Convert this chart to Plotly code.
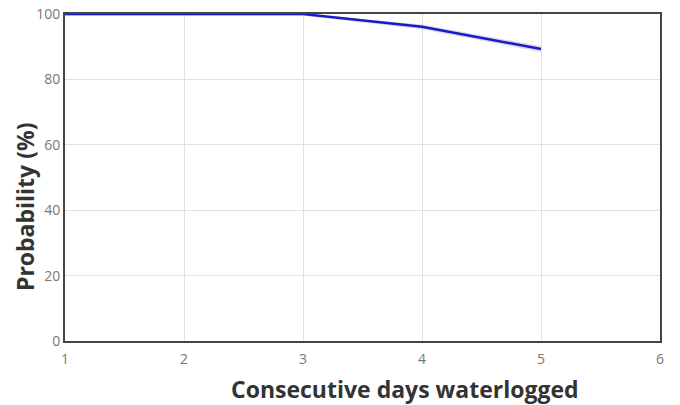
import plotly.graph_objects as go

days = [1, 2, 3, 4, 5]
probability = [100, 100, 100, 96.1, 89.3]
prob_upper = [100, 100, 100, 96.8, 90.2]
prob_lower = [99.5, 99.5, 99.5, 95.3, 88.4]

x_ticks = [1, 2, 3, 4, 5, 6]
y_ticks = [0, 20, 40, 60, 80, 100]

fig = go.Figure()
fig.add_trace(go.Scatter(x=days + days[::-1], y=prob_upper + prob_lower[::-1],
                         mode="none", fill="toself", fillcolor="rgba(150,150,180,0.35)",
                         hoverinfo="skip", showlegend=False))
fig.add_trace(go.Scatter(x=days, y=probability, mode="lines",
                         line=dict(color="#1a1ac8", width=2.5), showlegend=False))

axis_common = dict(showline=True, linecolor="#444", linewidth=2, mirror=True,
                   gridcolor="#e0e0e0", gridwidth=1, zeroline=False,
                   ticks="", ticklabeloverflow="allow",
                   tickfont=dict(family="Open Sans", size=14, color="#777"))
fig.update_xaxes(range=[1, 6], tickvals=x_ticks, ticklabelstandoff=4, **axis_common)
fig.update_yaxes(range=[0, 100], tickvals=y_ticks, **axis_common)

fig.add_annotation(text="<b>Consecutive days waterlogged</b>", xref="paper", yref="paper",
                   x=0.571, y=-0.147, xanchor="center", yanchor="middle", showarrow=False,
                   font=dict(family="Open Sans", size=23, color="#333"))
fig.add_annotation(text="<b>Probability (%)</b>", xref="paper", yref="paper",
                   x=-0.067, y=0.41, textangle=-90, xanchor="center", yanchor="middle",
                   showarrow=False, font=dict(family="Open Sans", size=23, color="#333"))

fig.update_layout(width=680, height=405,
                  margin=dict(l=65, r=20, t=14, b=64, autoexpand=False),
                  plot_bgcolor="white", paper_bgcolor="white")
fig.write_html("out.html", config={"displayModeBar": False},
               post_script="document.body.style.margin='0';")
